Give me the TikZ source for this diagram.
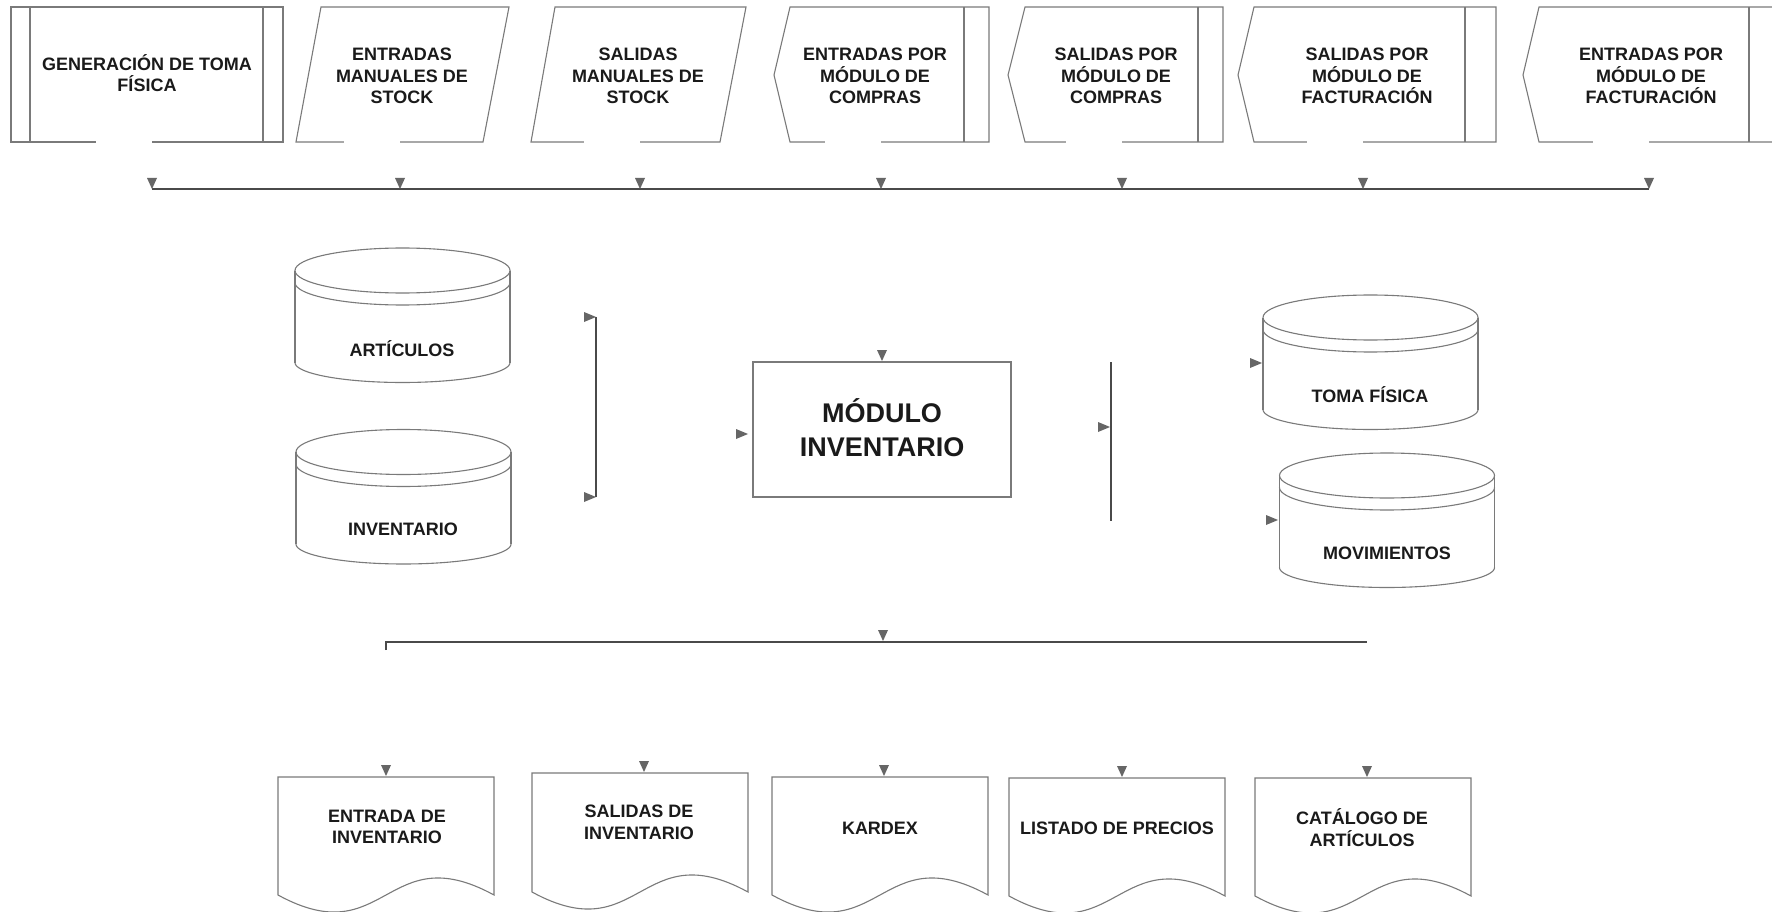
\documentclass[tikz,border=0pt]{standalone}
\usepackage{fontspec}
\setmainfont{Liberation Sans}
\definecolor{shpc}{HTML}{7A7A7A}
\definecolor{busc}{HTML}{4A4A4A}
\definecolor{tric}{HTML}{666666}
\definecolor{txtc}{HTML}{1A1A1A}
\tikzset{
  shp/.style={draw=shpc, line width=1.1pt, line join=miter},
  bus/.style={draw=busc, line width=1.4pt},
  gapw/.style={draw=white, line width=3pt},
  tri/.style={fill=tric},
  lbl/.style={font=\fontsize{18}{21.5}\selectfont\bfseries, text=txtc, align=center, inner sep=0pt},
  biglbl/.style={font=\fontsize{27}{34}\selectfont\bfseries, text=txtc, align=center, inner sep=0pt},
}
% small filled triangles (arrow marks)
\newcommand\tdn[1]{\fill[tri,shift={(#1)}] (-5,-11) -- (5,-11) -- (0,0) -- cycle;}
\newcommand\trt[1]{\fill[tri,shift={(#1)}] (-12,-5) -- (-12,5) -- (0,0) -- cycle;}
% database cylinder: #1 centre x, #2 centre y of top ellipse
\newcommand\dbcyl[2]{%
  \draw[shp] (#1,#2) ellipse [x radius=107.5, y radius=22.5];
  \draw[shp] plot[domain=0:180,samples=60] ({#1+107.5*cos(\x)},{#2+12+22.5*sin(\x)});
  \draw[shp] (#1-107.5,#2) -- (#1-107.5,#2+92);
  \draw[shp] (#1+107.5,#2) -- (#1+107.5,#2+92);
  \draw[shp] plot[domain=0:180,samples=60] ({#1+107.5*cos(\x)},{#2+92+20*sin(\x)});
}
% document shape: #1 left x, #2 top y, #3 y of wave ends
\newcommand\docshape[3]{%
  \draw[shp] (#1,#2) -- (#1+216,#2) -- (#1+216,#3)
    .. controls (#1+108,#3-59) and (#1+108,#3+59) .. (#1,#3) -- cycle;
}
\begin{document}
\begin{tikzpicture}[x=1pt,y=-1pt]
\useasboundingbox (0,0) rectangle (1772,912);
\clip (0,0) rectangle (1772,912);
\fill[white] (0,0) rectangle (1772,912);

% ---------- top input boxes ----------
\draw[shp] (11,7) rectangle (283,142);
\draw[shp] (30,7) -- (30,142) (263,7) -- (263,142);
\draw[shp] (296,142) -- (321,7) -- (509,7) -- (483,142) -- cycle;
\draw[shp] (531,142) -- (555,7) -- (746,7) -- (720,142) -- cycle;
\draw[shp] (774,75) -- (790,7) -- (989,7) -- (989,142) -- (790,142) -- cycle;
\draw[shp] (964,7) -- (964,142);
\draw[shp] (1008,75) -- (1025,7) -- (1223,7) -- (1223,142) -- (1025,142) -- cycle;
\draw[shp] (1198,7) -- (1198,142);
\draw[shp] (1238,75) -- (1254,7) -- (1496,7) -- (1496,142) -- (1254,142) -- cycle;
\draw[shp] (1465,7) -- (1465,142);
\draw[shp] (1523,75) -- (1539,7) -- (1790,7) -- (1790,142) -- (1539,142) -- cycle;
\draw[shp] (1749,7) -- (1749,142);
% gaps in the bottom edges
\foreach \a in {152,400,640,881,1122,1363,1649}
  \draw[gapw] (\a-56,142) -- (\a,142);

\node[lbl] (b1) at (147,73) {GENERACIÓN DE TOMA\\FÍSICA};
\node[lbl] (b2) at (402,76) {ENTRADAS\\MANUALES DE\\STOCK};
\node[lbl] (b3) at (638,76) {SALIDAS\\MANUALES DE\\STOCK};
\node[lbl] (b4) at (875,76) {ENTRADAS POR\\MÓDULO DE\\COMPRAS};
\node[lbl] (b5) at (1116,76) {SALIDAS POR\\MÓDULO DE\\COMPRAS};
\node[lbl] (b6) at (1367,76) {SALIDAS POR\\MÓDULO DE\\FACTURACIÓN};
\node[lbl] (b7) at (1651,76) {ENTRADAS POR\\MÓDULO DE\\FACTURACIÓN};

% top collector line
\coordinate (t1) at (152,189);
\coordinate (t2) at (400,189);
\coordinate (t3) at (640,189);
\coordinate (t4) at (881,189);
\coordinate (t5) at (1122,189);
\coordinate (t6) at (1363,189);
\coordinate (t7) at (1649,189);
\draw[bus] (t1) -- (t7);
\foreach \t in {t1,t2,t3,t4,t5,t6,t7} {\tdn{\t}}

% ---------- data stores, left ----------
\dbcyl{402.5}{270.5}
\dbcyl{403.5}{452}
\node[lbl] (c1) at (402,349) {ARTÍCULOS};
\node[lbl] (c2) at (403,529) {INVENTARIO};

\coordinate (lb1) at (596,317);
\coordinate (lb2) at (596,497);
\draw[bus, line width=1.2pt] (lb1) -- (lb2);
\trt{lb1}
\trt{lb2}

% ---------- module ----------
\node[biglbl] (m) at (882,428) {MÓDULO\\INVENTARIO};
\draw[shp] (753,362) rectangle (1011,497);
\coordinate (mt) at (882,361);
\coordinate (ml) at (748,434);
\tdn{mt}
\trt{ml}

% ---------- data stores, right ----------
\coordinate (rv1) at (1111,362);
\coordinate (rv2) at (1111,521);
\draw[bus, line width=1.2pt] (rv1) -- (rv2);
\coordinate (rva) at (1110,427);
\trt{rva}

\dbcyl{1370.5}{317.5}
\dbcyl{1387}{475.5}
\node[lbl] (c3) at (1370,395) {TOMA FÍSICA};
\node[lbl] (c4) at (1387,553) {MOVIMIENTOS};
\coordinate (ta) at (1262,363);
\coordinate (mva) at (1278,520);
\trt{ta}
\trt{mva}

% ---------- output line ----------
\coordinate (ob0) at (386,650);
\coordinate (ob1) at (386,642);
\coordinate (ob2) at (1367,642);
\coordinate (oba) at (883,641);
\draw[bus] (ob0) -- (ob1) -- (ob2);
\tdn{oba}

% ---------- reports ----------
\docshape{278}{777}{895}
\docshape{532}{773}{892}
\docshape{772}{777}{895}
\docshape{1009}{778}{896}
\docshape{1255}{778}{896}
\node[lbl] (d1) at (387,827) {ENTRADA DE\\INVENTARIO};
\node[lbl] (d2) at (639,822.5) {SALIDAS DE\\INVENTARIO};
\node[lbl] (d3) at (880,828) {KARDEX};
\node[lbl] (d4) at (1117,828) {LISTADO DE PRECIOS};
\node[lbl] (d5) at (1362,827.5) {CATÁLOGO DE\\ARTÍCULOS};
\coordinate (da1) at (386,776);
\coordinate (da2) at (644,772);
\coordinate (da3) at (884,776);
\coordinate (da4) at (1122,777);
\coordinate (da5) at (1367,777);
\foreach \t in {da1,da2,da3,da4,da5} {\tdn{\t}}
\end{tikzpicture}
\end{document}
